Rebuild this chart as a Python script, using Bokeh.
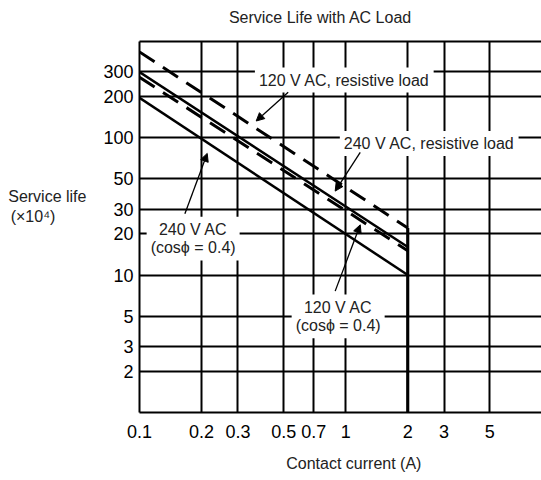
from bokeh.plotting import figure
from bokeh.models import (FixedTicker, Label, Arrow, NormalHead, LogAxis, Range1d,
                          CustomJSTickFormatter)
from bokeh.embed import file_html
from bokeh.resources import INLINE

# ---- data ----
current = [0.1, 2.0]                 # contact current (A)
life_120_res = [420, 22]             # 120 V AC, resistive load (x10^4)
life_240_res = [300, 16]             # 240 V AC, resistive load
life_120_cos = [275, 15]             # 120 V AC (cos phi = 0.4)
life_240_cos = [195, 10]             # 240 V AC (cos phi = 0.4)
x_ticks = [0.1, 0.2, 0.3, 0.5, 0.7, 1, 2, 3, 5]
y_ticks = [2, 3, 5, 10, 20, 30, 50, 100, 200, 300]

FONT = "Liberation Sans"
TXT = "#222222"
NB = "\u00a0"

p = figure(width=541, height=480, x_axis_type="log", y_axis_type="log",
           x_range=Range1d(0.1, 8.9), y_range=Range1d(1.0, 500),
           output_backend="svg", toolbar_location=None,
           min_border_left=139, min_border_right=0, min_border_top=41,
           min_border_bottom=68, outline_line_color=None)
p.background_fill_color = "white"
p.border_fill_color = "white"

fmt = CustomJSTickFormatter(code="return String(tick);")
for ax, ticks in ((p.xaxis[0], x_ticks), (p.yaxis[0], y_ticks)):
    ax.ticker = FixedTicker(ticks=ticks)
    ax.formatter = fmt
    ax.axis_line_color = "black"
    ax.axis_line_width = 2
    ax.major_tick_line_color = None
    ax.minor_tick_line_color = None
    ax.major_tick_out = 0
    ax.major_tick_in = 0
    ax.major_label_text_font = FONT
    ax.major_label_text_font_size = "18px"
    ax.major_label_text_color = "black"
    ax.axis_label_text_font = FONT
    ax.axis_label_text_font_size = "16px"
    ax.axis_label_text_font_style = "normal"
    ax.axis_label_text_color = TXT
p.xaxis.major_label_standoff = 12
p.yaxis.major_label_standoff = 6

# x axis label
p.xaxis.axis_label = NB * 6 + "Contact current (A)"
p.xaxis.axis_label_standoff = 14

# y axis label, horizontal, to the left of the tick labels
p.yaxis.axis_label = "Service life\n(×10⁴)" + NB * 7 + "\n\n"
p.yaxis.axis_label_orientation = "horizontal"
p.yaxis.axis_label_standoff = 14

# top border line carrying the chart title
top_axis = LogAxis(ticker=FixedTicker(ticks=[]), axis_line_color="black", axis_line_width=2,
                   major_tick_line_color=None, minor_tick_line_color=None,
                   major_tick_out=0, major_tick_in=0, major_label_standoff=0,
                   major_label_text_font_size="0px",
                   axis_label="Service Life with AC Load" + NB * 9,
                   axis_label_standoff=16, axis_label_text_font=FONT,
                   axis_label_text_font_size="16px", axis_label_text_font_style="normal",
                   axis_label_text_color=TXT)
p.add_layout(top_axis, "above")

p.grid.grid_line_color = "black"
p.grid.grid_line_width = 2
p.xgrid.ticker = FixedTicker(ticks=x_ticks[1:])
p.ygrid.ticker = FixedTicker(ticks=y_ticks)

# ---- curves ----
p.line(current, life_120_res, line_color="black", line_width=3, line_dash="18 10")
p.line(current, life_120_cos, line_color="black", line_width=3, line_dash="18 10")
p.line(current, life_240_res, line_color="black", line_width=2.5)
p.line(current, life_240_cos, line_color="black", line_width=2.5)
# vertical drop at the end of the curves
p.segment(x0=[current[-1]], y0=[p.y_range.start], x1=[current[-1]], y1=[life_120_res[-1]],
          line_color="black", line_width=3)

# ---- annotation labels ----
def lab(x, y, text):
    p.add_layout(Label(x=x, y=y, text=text, text_font=FONT, text_font_size="16px",
                       text_color=TXT, text_align="center", text_baseline="middle",
                       text_line_height=1.1,
                       background_fill_color="white", padding=4))

lab(0.984, 262, "120 V AC, resistive load")
lab(2.54, 90.5, "240 V AC, resistive load")
lab(0.182, 18.4, "240 V AC\n(cosϕ = 0.4)")
lab(0.919, 5.0, "120 V AC\n(cosϕ = 0.4)")

def arr(x0, y0, x1, y1):
    p.add_layout(Arrow(x_start=x0, y_start=y0, x_end=x1, y_end=y1, line_width=1.3,
                       line_color="black",
                       end=NormalHead(size=8, fill_color="black", line_color="black")))

arr(0.526, 214, 0.368, 132)
arr(1.176, 78, 0.889, 40.8)
arr(0.166, 27.9, 0.213, 76.7)
arr(0.889, 7.64, 1.176, 23.2)

open("out.html", "w").write(file_html(p, INLINE))
